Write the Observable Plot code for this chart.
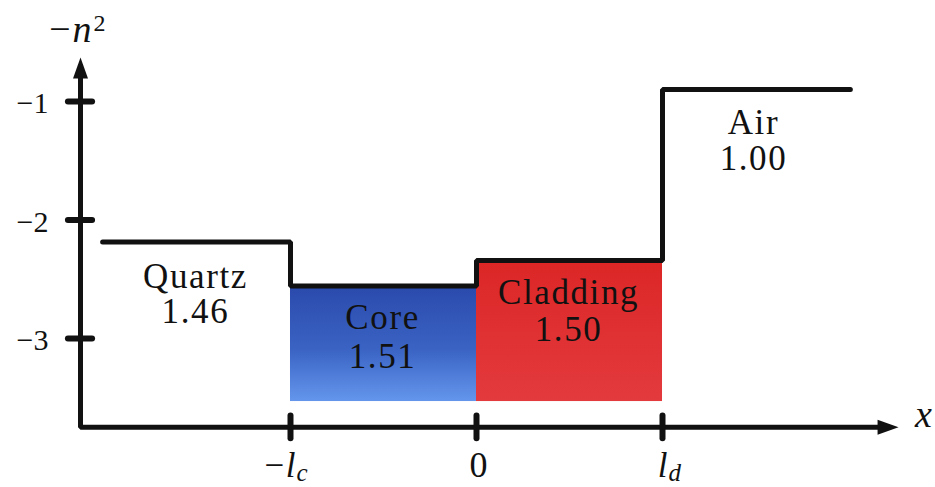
<!DOCTYPE html>
<html>
<head>
<meta charset="utf-8">
<script src="https://cdn.jsdelivr.net/npm/d3@7"></script>
<script src="https://cdn.jsdelivr.net/npm/@observablehq/plot@0.6"></script>
<style>
  html, body { margin: 0; padding: 0; background: #ffffff; overflow: hidden; }
  #chart svg { display: block; }
  #chart svg .region-label text { letter-spacing: 1.6px; }
</style>
</head>
<body>
<div id="chart"></div>
<script>
// ---- data (x in units of l, y = -n^2 schematic levels) ----
const stepX = [-2.01, -1, 0, 1, 2.01];
const stepY = [-2.186, -2.557, -2.342, -0.899, -0.899];

const regionNames = ["Quartz", "Core", "Cladding", "Air"];
const regionValues = ["1.46", "1.51", "1.50", "1.00"];
const regionLabelX = [-1.511, -0.505, 0.495, 1.489];
const regionNameY = [-2.578, -2.916, -2.705, -1.278];
const regionValueY = [-2.865, -3.245, -3.017, -1.582];

const fillX1 = [-1, 0];
const fillX2 = [0, 1];
const fillTop = [-2.557, -2.342];
const fillBottom = [-3.532, -3.532];
const fillIds = ["coreGrad", "cladGrad"];

const yTicks = [-1, -2, -3];
const yTickLabels = ["−1", "−2", "−3"];
const xTicks = [-1, 0, 1];
const xTickMain = ["−l", "0", "l"];
const xTickSub = ["c", "", "d"];

const yAxisAt = -2.129;   // x position of the vertical axis
const xAxisAt = -3.75;    // y position of the horizontal axis
const yAxisTip = -0.629;
const yAxisLineEnd = -0.70;
const xAxisTip = 2.269;
const xAxisLineEnd = 2.22;

const yLabel = "−n", yLabelSup = "2";
const yLabelPos = [-2.07, -0.502];
const xLabel = "x";
const xLabelPos = [2.403, -3.751];
const xTickLabelY = -4.165;
const yTickLabelX = -2.301;

// ---- tables built from the arrays ----
const step = stepX.map((x, i) => ({x, y: stepY[i]}));
const regions = regionNames.map((name, i) => ({name, value: regionValues[i], x: regionLabelX[i], yn: regionNameY[i], yv: regionValueY[i]}));
const fills = fillIds.map((id, i) => ({id, x1: fillX1[i], x2: fillX2[i], y1: fillBottom[i], y2: fillTop[i]}));
const xTickRows = xTicks.map((v, i) => ({v, main: xTickMain[i], sub: xTickSub[i]}));
const yTickRows = yTicks.map((v, i) => ({v, label: yTickLabels[i]}));
const axisPath = [
  {x: yAxisAt, y: yAxisLineEnd},
  {x: yAxisAt, y: xAxisAt},
  {x: xAxisLineEnd, y: xAxisAt}
];
const arrows = [
  {x: yAxisAt, y: yAxisTip, r: 0},
  {x: xAxisTip, y: xAxisAt, r: 90}
];

const arrowSymbol = {
  draw(ctx) {
    const h = 21, w = 15;
    ctx.moveTo(0, 0);
    ctx.lineTo(w / 2, h);
    ctx.lineTo(-w / 2, h);
    ctx.closePath();
  }
};

const FONT = "Liberation Serif";
const T = {fontFamily: FONT, fill: "#111"};

const chart = Plot.plot({
  width: 935,
  height: 487,
  margin: 0,
  style: {background: "#ffffff", color: "#111"},
  x: {domain: [-2.5591, 2.4677], axis: null},
  y: {domain: [-4.2574, -0.1477], axis: null},
  color: {type: "identity"},
  marks: [
    Plot.rect(fills, {x1: "x1", x2: "x2", y1: "y1", y2: "y2", fill: d => `url(#${d.id})`}),
    Plot.line(step, {x: "x", y: "y", curve: "step-after", stroke: "#111", strokeWidth: 5, strokeLinecap: "round", strokeLinejoin: "miter"}),
    Plot.line(axisPath, {x: "x", y: "y", stroke: "#111", strokeWidth: 5, strokeLinejoin: "miter"}),
    Plot.dot(arrows, {x: "x", y: "y", rotate: "r", symbol: arrowSymbol, fill: "#111", stroke: "none", r: 10}),
    Plot.ruleY(yTickRows, {y: "v", x1: () => yAxisAt - 0.065, x2: () => yAxisAt + 0.065, stroke: "#111", strokeWidth: 6, strokeLinecap: "round"}),
    Plot.ruleX(xTickRows, {x: "v", y1: () => xAxisAt - 0.095, y2: () => xAxisAt + 0.095, stroke: "#111", strokeWidth: 6, strokeLinecap: "round"}),
    Plot.text(yTickRows, {...T, x: () => yTickLabelX, y: "v", text: "label", textAnchor: "end", lineAnchor: "middle", dy: 2, fontSize: 30}),
    Plot.text(xTickRows.filter(d => d.sub), {...T, x: "v", y: () => xTickLabelY, text: "main", textAnchor: "end", lineAnchor: "bottom", dx: 5, fontSize: 35, fontStyle: "italic"}),
    Plot.text(xTickRows.filter(d => !d.sub), {...T, x: "v", y: () => xTickLabelY, text: "main", textAnchor: "middle", lineAnchor: "bottom", dx: 2, fontSize: 36}),
    Plot.text(xTickRows.filter(d => d.sub), {...T, x: "v", y: () => xTickLabelY, text: "sub", textAnchor: "start", lineAnchor: "bottom", dx: 6, dy: 4, fontSize: 25, fontStyle: "italic"}),
    Plot.text(regions, {...T, className: "region-label", x: "x", y: "yn", text: "name", textAnchor: "middle", lineAnchor: "bottom", fontSize: 35}),
    Plot.text(regions, {...T, className: "region-label", x: "x", y: "yv", text: "value", textAnchor: "middle", lineAnchor: "bottom", fontSize: 35}),
    Plot.text([yLabel], {...T, x: () => yLabelPos[0], y: () => yLabelPos[1], text: d => d, textAnchor: "end", lineAnchor: "bottom", fontSize: 38, fontStyle: "italic"}),
    Plot.text([yLabelSup], {...T, x: () => yLabelPos[0], y: () => yLabelPos[1], text: d => d, textAnchor: "start", lineAnchor: "bottom", dx: 2, dy: -11, fontSize: 24}),
    Plot.text([xLabel], {...T, x: () => xLabelPos[0], y: () => xLabelPos[1], text: d => d, textAnchor: "middle", lineAnchor: "bottom", fontSize: 38, fontStyle: "italic"})
  ]
});

// gradients used by the filled regions
const defs = d3.select(chart).insert("defs", ":first-child");
const g1 = defs.append("linearGradient").attr("id", "coreGrad").attr("x1", 0).attr("y1", 0).attr("x2", 0).attr("y2", 1);
g1.append("stop").attr("offset", "0%").attr("stop-color", "#2a4aac");
g1.append("stop").attr("offset", "55%").attr("stop-color", "#3a63c4");
g1.append("stop").attr("offset", "100%").attr("stop-color", "#6496ec");
const g2 = defs.append("linearGradient").attr("id", "cladGrad").attr("x1", 0).attr("y1", 0).attr("x2", 0).attr("y2", 1);
g2.append("stop").attr("offset", "0%").attr("stop-color", "#dc2626");
g2.append("stop").attr("offset", "100%").attr("stop-color", "#e33a3e");

document.getElementById("chart").append(chart);
</script>
</body>
</html>
